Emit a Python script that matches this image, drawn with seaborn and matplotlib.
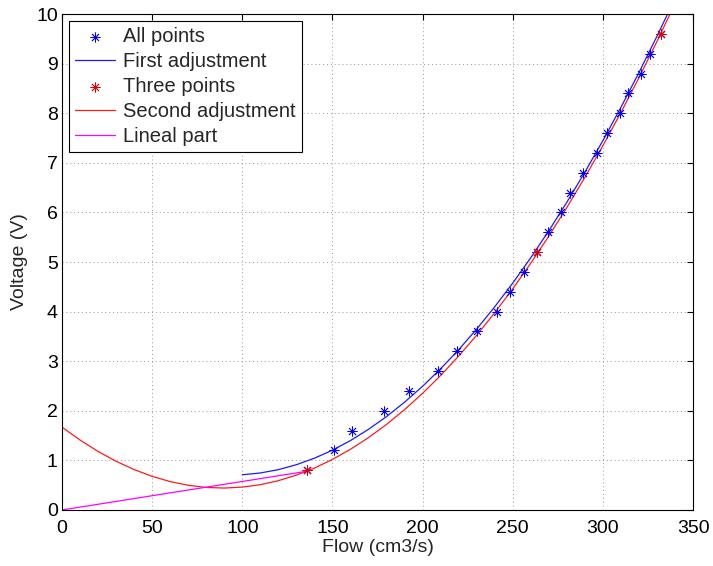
import matplotlib
matplotlib.use("Agg")
import matplotlib.pyplot as plt
import seaborn as sns

# All measured points (flow, voltage)
all_flow = [135.7, 150.9, 160.7, 178.6, 192.6, 208.7, 218.9, 230.4, 241.5, 248.6,
            256.4, 263.6, 269.7, 276.6, 281.6, 288.8, 296.6, 302.4, 309.5, 314.1,
            321.0, 326.1, 332.0]
all_volt = [0.8, 1.2, 1.6, 2.0, 2.4, 2.8, 3.2, 3.6, 4.0, 4.4,
            4.8, 5.2, 5.6, 6.0, 6.4, 6.8, 7.2, 7.6, 8.0, 8.4,
            8.8, 9.2, 9.6]

# Three selected points
three_flow = [135.7, 263.6, 332.0]
three_volt = [0.8, 5.2, 9.6]

# First adjustment curve
first_flow = [100, 110, 120, 130, 140, 150, 160, 170, 180, 190, 200, 210, 220, 230,
              240, 250, 260, 270, 280, 290, 300, 310, 320, 330, 337]
first_volt = [0.710, 0.746, 0.813, 0.913, 1.044, 1.206, 1.400, 1.627, 1.884, 2.174,
              2.495, 2.848, 3.232, 3.649, 4.097, 4.576, 5.088, 5.631, 6.206, 6.812,
              7.450, 8.120, 8.822, 9.555, 10.087]

# Second adjustment curve
second_flow = [0, 10, 20, 30, 40, 50, 60, 70, 80, 90, 100, 110, 120, 130, 140, 150,
               160, 170, 180, 190, 200, 210, 220, 230, 240, 250, 260, 270, 280, 290,
               300, 310, 320, 330, 340]
second_volt = [1.670, 1.410, 1.180, 0.982, 0.814, 0.678, 0.572, 0.498, 0.454, 0.442,
               0.461, 0.510, 0.591, 0.703, 0.845, 1.019, 1.224, 1.459, 1.726, 2.024,
               2.353, 2.713, 3.104, 3.525, 3.978, 4.462, 4.977, 5.523, 6.100, 6.708,
               7.347, 8.017, 8.718, 9.450, 10.213]

# Lineal part
lin_flow = [0, 135.7]
lin_volt = [0, 0.78]

x_ticks = [0, 50, 100, 150, 200, 250, 300, 350]
y_ticks = [0, 1, 2, 3, 4, 5, 6, 7, 8, 9, 10]

sns.set_theme(style="white")
plt.rcParams['font.family'] = ['Liberation Sans', 'DejaVu Sans']

fig = plt.figure(figsize=(7.13, 5.66), dpi=100)
ax = fig.add_axes([0.087, 0.099, 0.885, 0.876])

star = (8, 2, 0)

sns.scatterplot(x=all_flow, y=all_volt, ax=ax, marker=star, color='#0000ff',
                s=45, linewidth=0.6, label='All points', zorder=3)
sns.lineplot(x=first_flow, y=first_volt, ax=ax, color='#1a1aff', linewidth=0.9,
             sort=False, estimator=None, label='First adjustment')
sns.scatterplot(x=three_flow, y=three_volt, ax=ax, marker=star, color='#dd0000',
                s=45, linewidth=0.6, label='Three points', zorder=4)
sns.lineplot(x=second_flow, y=second_volt, ax=ax, color='#ff1a1a', linewidth=0.9,
             sort=False, estimator=None, label='Second adjustment')
sns.lineplot(x=lin_flow, y=lin_volt, ax=ax, color='#ff00ff', linewidth=0.9,
             sort=False, estimator=None, label='Lineal part')

ax.set_xlim(0, 350)
ax.set_ylim(0, 10)
ax.set_xticks(x_ticks)
ax.set_yticks(y_ticks)
ax.tick_params(direction='in', length=4, width=0.8, top=True, right=True,
               labelsize=14, colors='black', pad=3)
ax.tick_params(axis='x', pad=7)
ax.grid(True, linestyle=(0, (1, 3)), color='#999999', linewidth=0.7)
for sp in ax.spines.values():
    sp.set_visible(True)
    sp.set_color('black')
    sp.set_linewidth(0.8)

ax.set_xlabel('Flow (cm3/s)', fontsize=14, labelpad=2)
ax.set_ylabel('Voltage (V)', fontsize=14, labelpad=6)

leg = ax.legend(loc='upper left', fontsize=14.5, frameon=True, fancybox=False,
                edgecolor='black', framealpha=1, handlelength=2.0,
                labelspacing=0.3, borderpad=0.3, borderaxespad=0.35,
                handletextpad=0.4, scatterpoints=1)
leg.get_frame().set_linewidth(0.8)

fig.savefig('out.png', dpi=100)
